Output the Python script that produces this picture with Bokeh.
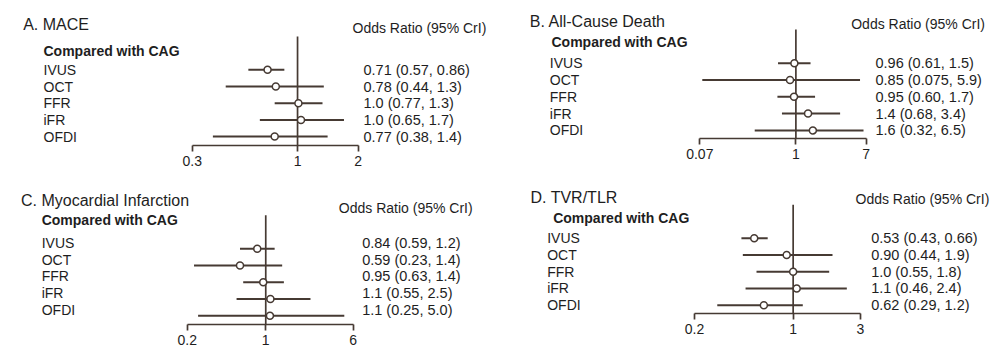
import math
from bokeh.plotting import figure
from bokeh.layouts import column, row
from bokeh.core.properties import value
from bokeh.models import (ColumnDataSource, Range1d, FixedTicker,
                          CustomJSTickFormatter, Label, LabelSet)
from bokeh.embed import file_html
from bokeh.resources import INLINE

# ---------------- data ----------------
methods = ["IVUS", "OCT", "FFR", "iFR", "OFDI"]
titles = ["A. MACE", "B. All-Cause Death", "C. Myocardial Infarction", "D. TVR/TLR"]
header = "Compared with CAG"
col_head = "Odds Ratio (95% CrI)"

mace_or = [0.71, 0.78, 1.01, 1.04, 0.77]
mace_lo = [0.57, 0.44, 0.77, 0.65, 0.38]
mace_hi = [0.86, 1.35, 1.33, 1.7, 1.41]
mace_txt = ["0.71 (0.57, 0.86)", "0.78 (0.44, 1.3)", "1.0 (0.77, 1.3)",
            "1.0 (0.65, 1.7)", "0.77 (0.38, 1.4)"]
mace_ticks = [0.3, 1, 2]

death_or = [0.96, 0.85, 0.95, 1.4, 1.6]
death_lo = [0.61, 0.075, 0.60, 0.68, 0.32]
death_hi = [1.5, 5.9, 1.7, 3.4, 6.5]
death_txt = ["0.96 (0.61, 1.5)", "0.85 (0.075, 5.9)", "0.95 (0.60, 1.7)",
             "1.4 (0.68, 3.4)", "1.6 (0.32, 6.5)"]
death_ticks = [0.07, 1, 7]

mi_or = [0.84, 0.59, 0.95, 1.1, 1.09]
mi_lo = [0.59, 0.23, 0.63, 0.55, 0.25]
mi_hi = [1.2, 1.4, 1.45, 2.5, 5.0]
mi_txt = ["0.84 (0.59, 1.2)", "0.59 (0.23, 1.4)", "0.95 (0.63, 1.4)",
          "1.1 (0.55, 2.5)", "1.1 (0.25, 5.0)"]
mi_ticks = [0.2, 1, 6]

tvr_or = [0.53, 0.90, 1.0, 1.06, 0.62]
tvr_lo = [0.43, 0.44, 0.55, 0.46, 0.29]
tvr_hi = [0.66, 1.9, 1.8, 2.4, 1.17]
tvr_txt = ["0.53 (0.43, 0.66)", "0.90 (0.44, 1.9)", "1.0 (0.55, 1.8)",
           "1.1 (0.46, 2.4)", "0.62 (0.29, 1.2)"]
tvr_ticks = [0.2, 1, 3]

# ---------------- style / layout ----------------
FONT = "Liberation Sans"
TXT = "#1e1e1e"
LINE = "#463a33"
W = 501

# bb = bottom border shared by the panels of a row (so aligned frames stay put)
geo = [
    dict(ox=0, oy=0, bb=31, axis=145, px_lo=191.7, px_hi=357.7, row0=69.3, dy=16.7, toff=0,
         title=(22.7, 24.3), odds=(352, 27.7), comp=(43, 50), lab_x=43, val_x=363),
    dict(ox=501, oy=0, bb=31, axis=138, px_lo=699.3, px_hi=865.7, row0=62.7, dy=16.8, toff=0,
         title=(529.3, 20.5), odds=(850.7, 23.8), comp=(551, 41.5), lab_x=549.3, val_x=875),
    dict(ox=0, oy=176, bb=28, axis=324, px_lo=186.7, px_hi=352.7, row0=248.3, dy=16.75, toff=-6,
         title=(20.5, 200), odds=(338.3, 207.7), comp=(41.2, 219.5), lab_x=41.2, val_x=361.7),
    dict(ox=501, oy=176, bb=28, axis=313, px_lo=694, px_hi=860, row0=237.7, dy=16.75, toff=0,
         title=(530, 197), odds=(855, 198.5), comp=(552.7, 217.5), lab_x=546.7, val_x=870.7),
]


def panel(title, ors, los, his, txts, ticks, g):
    ox, oy = g["ox"], g["oy"]
    fh = int(g["axis"] - oy)
    bb = g["bb"]
    H = fh + bb
    lo_t, hi_t = ticks[0], ticks[-1]
    k = (g["px_hi"] - g["px_lo"]) / math.log(hi_t / lo_t)
    x0 = lo_t * math.exp(-(g["px_lo"] - ox) / k)
    x1 = lo_t * math.exp((ox + W - g["px_lo"]) / k)
    r0 = g["row0"] - oy
    dy = g["dy"]
    y_top = -r0 / dy
    y_bot = (fh - r0) / dy

    def yrow(ypage):
        return (ypage - g["row0"]) / dy

    p = figure(width=W, height=H, x_axis_type="log",
               x_range=Range1d(x0, x1), y_range=Range1d(y_bot, y_top),
               output_backend="svg", toolbar_location=None,
               min_border=0, min_border_left=0, min_border_right=0, min_border_top=0,
               min_border_bottom=bb, y_axis_location=None,
               outline_line_color=None, background_fill_color="white",
               border_fill_color="white")
    p.xgrid.visible = False
    p.ygrid.visible = False

    rows = list(range(len(methods)))
    src = ColumnDataSource(dict(r=rows, o=ors, lo=los, hi=his, m=methods, t=txts,
                                ty=[r + g["toff"] / dy for r in rows]))

    # reference line at OR = 1
    p.segment(x0=[1], y0=[-2], x1=[1], y1=[y_bot], line_color=LINE, line_width=1.7)
    # credible intervals
    p.segment(x0="lo", y0="r", x1="hi", y1="r", source=src, line_color=LINE, line_width=2)
    p.scatter(x="o", y="r", source=src, size=7, marker="circle",
              fill_color="white", line_color=LINE, line_width=1.5)

    ax = p.xaxis[0]
    ax.ticker = FixedTicker(ticks=ticks, minor_ticks=[])
    ax.bounds = (lo_t, hi_t)
    ax.formatter = CustomJSTickFormatter(code="return String(tick)")
    ax.major_tick_out = 6
    ax.major_tick_in = 0
    ax.minor_tick_out = 0
    ax.minor_tick_in = 0
    ax.axis_line_color = LINE
    ax.axis_line_width = 1.7
    ax.major_tick_line_color = LINE
    ax.major_tick_line_width = 1.7
    ax.major_label_standoff = 4
    ax.major_label_text_font = FONT
    ax.major_label_text_font_size = "14px"
    ax.major_label_text_color = TXT

    p.add_layout(Label(x=g["title"][0] - ox, y=yrow(g["title"][1]), x_units="screen",
                       text=title, text_font=FONT, text_font_size="16px",
                       text_color=TXT, text_baseline="middle"))
    p.add_layout(Label(x=g["odds"][0] - ox, y=yrow(g["odds"][1]), x_units="screen",
                       text=col_head, text_font=FONT, text_font_size="14px",
                       text_color=TXT, text_baseline="middle"))
    p.add_layout(Label(x=g["comp"][0] - ox, y=yrow(g["comp"][1]), x_units="screen",
                       text=header, text_font=FONT, text_font_size="14px",
                       text_font_style="bold", text_color=TXT, text_baseline="middle"))
    p.add_layout(LabelSet(x=g["lab_x"] - ox, y="ty", x_units="screen", text="m",
                          source=src, text_font=value(FONT), text_font_size=value("14px"),
                          text_color=TXT, text_baseline="middle"))
    p.add_layout(LabelSet(x=g["val_x"] - ox, y="ty", x_units="screen", text="t",
                          source=src, text_font=value(FONT), text_font_size=value("14.5px"),
                          text_color=TXT, text_baseline="middle"))
    return p


pA = panel(titles[0], mace_or, mace_lo, mace_hi, mace_txt, mace_ticks, geo[0])
pB = panel(titles[1], death_or, death_lo, death_hi, death_txt, death_ticks, geo[1])
pC = panel(titles[2], mi_or, mi_lo, mi_hi, mi_txt, mi_ticks, geo[2])
pD = panel(titles[3], tvr_or, tvr_lo, tvr_hi, tvr_txt, tvr_ticks, geo[3])

layout = column(row(pA, pB, spacing=0), row(pC, pD, spacing=0), spacing=0)

open("out.html", "w").write(file_html(layout, INLINE))
